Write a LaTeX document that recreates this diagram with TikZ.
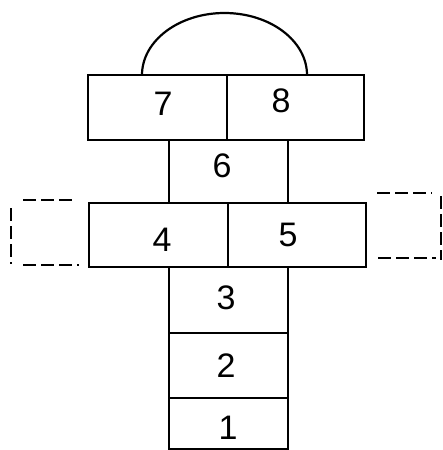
\documentclass[tikz,border=0pt]{standalone}
\usepackage{fontspec}
\setmainfont{Liberation Sans}
\begin{document}
\begin{tikzpicture}[x=1pt,y=-1pt,
  cell/.style={draw, line width=2.2pt, rectangle, inner sep=0pt},
  num/.style={font=\fontsize{34}{34}\selectfont, inner sep=0pt},
  ghost/.style={line width=2pt, dash pattern=on 13pt off 5pt},
  ]
\useasboundingbox (0,0) rectangle (443,450);
% cells
\node[cell, minimum width=139pt, minimum height=65pt] (c7) at (157.5,107.5) {};
\node[cell, minimum width=137pt, minimum height=65pt] (c8) at (295.5,107.5) {};
\node[cell, minimum width=119pt, minimum height=63pt] (c6) at (228.5,171.5) {};
\node[cell, minimum width=139pt, minimum height=64pt] (c4) at (158.5,235) {};
\node[cell, minimum width=138pt, minimum height=64pt] (c5) at (297,235) {};
\node[cell, minimum width=119pt, minimum height=66pt] (c3) at (228.5,300) {};
\node[cell, minimum width=119pt, minimum height=65pt] (c2) at (228.5,365.5) {};
\node[cell, minimum width=119pt, minimum height=51pt] (c1) at (228.5,423.5) {};
% numbers
\node[num] (n7) at (163,104) {7};
\node[num] (n8) at (281,101) {8};
\node[num] (n6) at (222,166) {6};
\node[num] (n4) at (162,240) {4};
\node[num] (n5) at (288,235) {5};
\node[num] (n3) at (226,298) {3};
\node[num] (n2) at (226,366) {2};
\node[num] (n1) at (228,428) {1};
% arch
\coordinate (a1) at (142,75);
\draw[line width=2.2pt] (a1) arc[start angle=180, end angle=360, x radius=82.5, y radius=62];
% dashed side squares
\draw[ghost] (23,200) -- (75,200);
\draw[ghost] (23,265) -- (79,265);
\draw[ghost] (11,208) -- (11,264);
\draw[ghost] (377,193) -- (432,193);
\draw[ghost] (378,258) -- (436,258);
\draw[ghost] (441,196) -- (441,260);
\end{tikzpicture}
\end{document}
